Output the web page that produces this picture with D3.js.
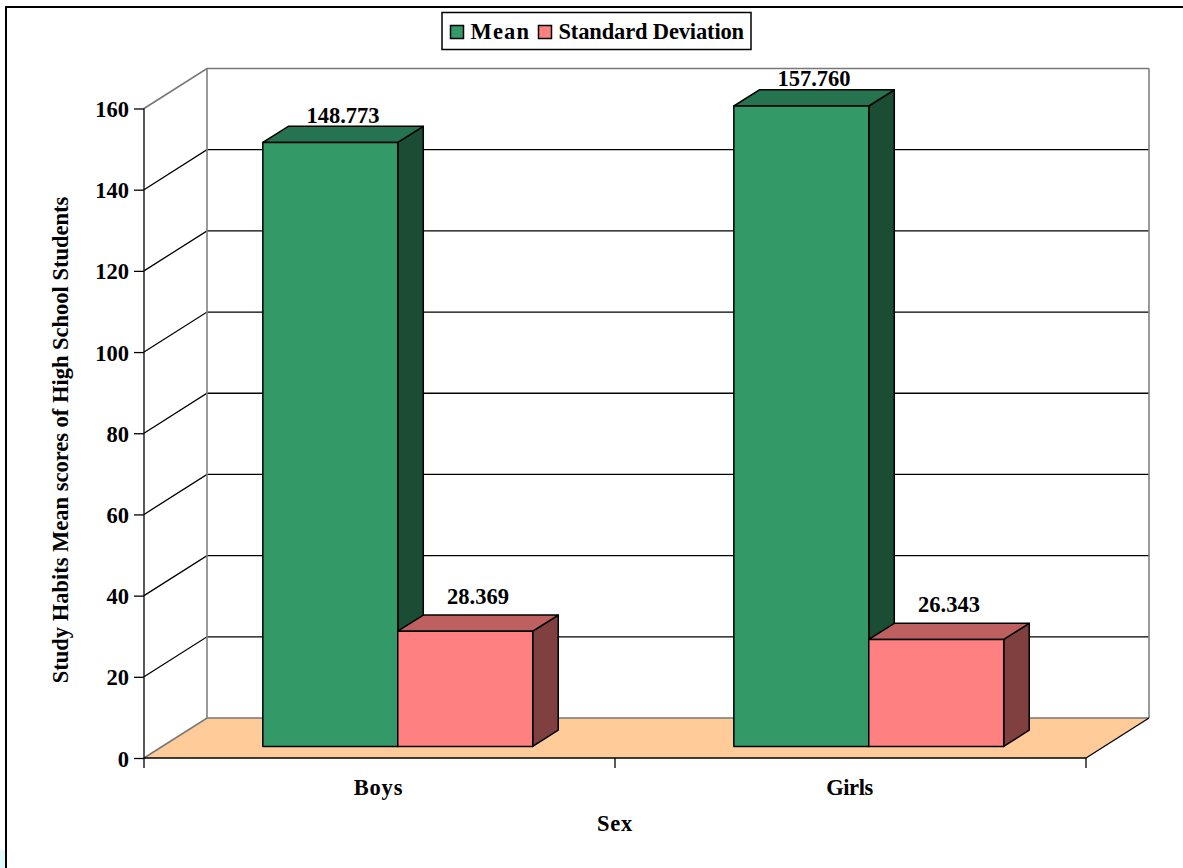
<!DOCTYPE html>
<html>
<head>
<meta charset="utf-8">
<script src="https://cdn.jsdelivr.net/npm/d3@7"></script>
<style>
  html, body { margin: 0; padding: 0; background: #fff; }
  svg { display: block; }
  text { font-family: "Liberation Serif", "Times New Roman", serif; font-weight: bold; fill: #000; }
</style>
</head>
<body>
<svg id="chart" width="1183" height="868"></svg>
<script>
// Study habits scores by sex, drawn as a 3-D clustered column chart.
const categories = ["Boys", "Girls"];
const seriesNames = ["Mean", "Standard Deviation"];
const meanValues = [148.773, 157.760];
const sdValues = [28.369, 26.343];
const valueLabels = [["148.773", "157.760"], ["28.369", "26.343"]];
const yTicks = [0, 20, 40, 60, 80, 100, 120, 140, 160];
const seriesColors = [
  { front: "#339966", top: "#267350", side: "#1a4d33" },
  { front: "#ff8080", top: "#bf6060", side: "#804040" }
];

const svg = d3.select("#chart");
const fontSize = "22.5px";

// Plot box of the front plane and the oblique depth of the chart.
const plot = { left: 144, right: 1086, bottom: 758, top: 108.5 };
const depth = { dx: 63, dy: -40 };
const barZ = { near: 0.29, far: 0.695 };
const groupShare = 0.573;

const y = d3.scaleLinear().domain([0, 160]).range([plot.bottom, plot.top]);
const x = d3.scaleBand().domain(categories).range([plot.left, plot.right]);
const inner = d3.scaleBand().domain(seriesNames)
  .range([x.bandwidth() * (1 - groupShare) / 2, x.bandwidth() * (1 + groupShare) / 2]);
const project = (px, py, z) => [px + depth.dx * z, py + depth.dy * z];
const polyPath = pts => d3.line()(pts) + "Z";

// Page frame and the small tinted corner outside it.
svg.append("rect").attr("x", 0).attr("y", 850).attr("width", 5).attr("height", 18).attr("fill", "#dffafa");
svg.append("path").attr("d", "M6,868V7H1183").attr("fill", "none").attr("stroke", "#000").attr("stroke-width", 2);

// Floor
svg.append("path")
  .attr("d", polyPath([
    project(plot.left, plot.bottom, 0), project(plot.left, plot.bottom, 1),
    project(plot.right, plot.bottom, 1), project(plot.right, plot.bottom, 0)
  ]))
  .attr("fill", "#ffcc99");

// Side wall and back wall gridlines
const grid = svg.append("g").attr("fill", "none");
yTicks.forEach(t => {
  const edge = t === 0 || t === 160;
  grid.append("path")
    .attr("d", d3.line()([project(plot.left, y(t), 0), project(plot.left, y(t), 1), project(plot.right, y(t), 1)]))
    .attr("stroke", edge ? "#777" : "#000").attr("stroke-width", edge ? 1.6 : 1.3);
});
[plot.left, plot.right].forEach(px => {
  grid.append("path")
    .attr("d", d3.line()([project(px, y(0), 1), project(px, y(160), 1)]))
    .attr("stroke", "#808080").attr("stroke-width", 1.6);
});
grid.append("path")
  .attr("d", d3.line()([project(plot.right, y(0), 0), project(plot.right, y(0), 1)]))
  .attr("stroke", "#000").attr("stroke-width", 1.3);

// Columns
const bars = svg.append("g").attr("stroke", "#000").attr("stroke-width", 1.5).attr("stroke-linejoin", "round");
const labelLift = [3.5, 11];
const labelLayer = svg.append("g").attr("text-anchor", "middle").style("font-size", fontSize);

categories.forEach((cat, ci) => {
  [meanValues, sdValues].forEach((vals, si) => {
    const x0 = x(cat) + inner(seriesNames[si]);
    const x1 = x0 + inner.bandwidth();
    const yTop = y(vals[ci]);
    const c = seriesColors[si];
    const n = (px, py) => project(px, py, barZ.near);
    const f = (px, py) => project(px, py, barZ.far);
    bars.append("path").attr("fill", c.side)
      .attr("d", polyPath([n(x1, y(0)), f(x1, y(0)), f(x1, yTop), n(x1, yTop)]));
    bars.append("path").attr("fill", c.top)
      .attr("d", polyPath([n(x0, yTop), f(x0, yTop), f(x1, yTop), n(x1, yTop)]));
    bars.append("path").attr("fill", c.front)
      .attr("d", polyPath([n(x0, y(0)), n(x0, yTop), n(x1, yTop), n(x1, y(0))]));
    const midX = project((x0 + x1) / 2, yTop, (barZ.near + barZ.far) / 2)[0];
    labelLayer.append("text")
      .attr("x", midX).attr("y", f(x0, yTop)[1] - labelLift[si])
      .text(valueLabels[si][ci]);
  });
});

// Axes
const yAxis = d3.axisLeft(y).tickValues(yTicks).tickSize(10).tickPadding(5).tickFormat(d3.format("d"));
const yG = svg.append("g").attr("transform", `translate(${plot.left},0)`).call(yAxis);
yG.selectAll("path,line").attr("stroke", "#000").attr("stroke-width", 1.3);
yG.selectAll("text").attr("fill", "#000").attr("dy", "0.36em")
  .style("font-family", '"Liberation Serif", serif').style("font-size", fontSize).style("font-weight", "bold");
yG.select(".domain").attr("d", `M0,${plot.top}V${plot.bottom}`);

const boundaries = d3.scalePoint().domain([0, 1, 2]).range([plot.left, plot.right]);
const xG = svg.append("g").attr("stroke", "#000").attr("stroke-width", 1.3);
xG.append("line").attr("x1", plot.left).attr("x2", plot.right).attr("y1", plot.bottom).attr("y2", plot.bottom);
boundaries.domain().forEach(b => {
  xG.append("line").attr("x1", boundaries(b)).attr("x2", boundaries(b))
    .attr("y1", plot.bottom).attr("y2", plot.bottom + 10);
});
const categorySpacing = ["0.8px", "-0.4px"];
svg.append("g").attr("text-anchor", "middle").style("font-size", fontSize)
  .selectAll("text").data(categories).join("text")
  .style("letter-spacing", (d, i) => categorySpacing[i])
  .attr("x", d => x(d) + x.bandwidth() / 2 - 1).attr("y", 795).text(d => d);

// Axis titles
svg.append("text").attr("x", 615).attr("y", 831).attr("text-anchor", "middle")
  .style("font-size", fontSize).style("letter-spacing", "0.8px").text("Sex");
svg.append("text").attr("transform", "translate(68,440) rotate(-90)").attr("text-anchor", "middle")
  .style("font-size", fontSize).text("Study Habits Mean scores of High School Students");

// Legend
const legend = svg.append("g");
legend.append("rect").attr("x", 442).attr("y", 12.5).attr("width", 309).attr("height", 37)
  .attr("fill", "#fff").attr("stroke", "#000").attr("stroke-width", 1.5);
const legendX = [450.5, 538.5];
const legendSpacing = ["1.2px", "-0.15px"];
seriesNames.forEach((name, i) => {
  legend.append("rect").attr("x", legendX[i]).attr("y", 25.5).attr("width", 13).attr("height", 13)
    .attr("fill", seriesColors[i].front).attr("stroke", "#000").attr("stroke-width", 1.5);
  legend.append("text").attr("x", legendX[i] + 20).attr("y", 39)
    .style("font-size", fontSize).style("letter-spacing", legendSpacing[i]).text(name);
});
</script>
</body>
</html>
